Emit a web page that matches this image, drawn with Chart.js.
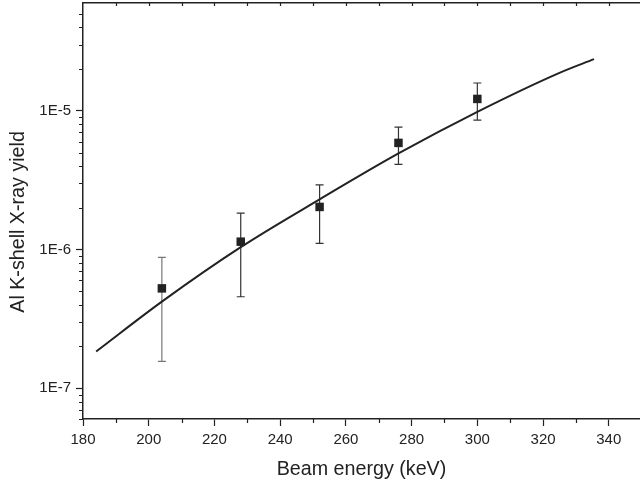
<!DOCTYPE html>
<html>
<head>
<meta charset="utf-8">
<script src="https://cdn.jsdelivr.net/npm/chart.js@4.4.0/dist/chart.umd.min.js"></script>
<style>
    body { margin: 0; background: #fff; overflow: hidden; }
    canvas { display: block; }
</style>
</head>
<body>
<canvas id="yieldChart" width="640" height="488"></canvas>
<script>
// Measured Al K-shell X-ray yield
const energy = [204, 228, 252, 276, 300];
const yieldValues = [5.25e-7, 1.14e-6, 2.03e-6, 5.88e-6, 1.22e-5];
const errHigh = [8.79e-7, 1.83e-6, 2.93e-6, 7.63e-6, 1.59e-5];
const errLow = [1.56e-7, 4.57e-7, 1.11e-6, 4.11e-6, 8.57e-6];

// Calculated curve
const fitEnergy = [184, 204, 228, 252, 276, 300, 325, 335.5];
const fitYield = [1.84e-7, 4.21e-7, 1.04e-6, 2.30e-6, 4.93e-6, 9.84e-6, 1.88e-5, 2.36e-5];

// Axis ticks
const xTickValues = [180, 200, 220, 240, 260, 280, 300, 320, 340];
const yTickValues = [1e-7, 1e-6, 1e-5];
const yTickLabels = ['1E-7', '1E-6', '1E-5'];

const ink = '#222';
const errColors = ['#777', '#333', '#333', '#333', '#333'];
const fontFamily = "'Liberation Sans', Arial, sans-serif";

// keep the plot area where the axes say, no extra label padding
function fixBox(width, height) {
    return function(scale) {
        if (width !== null) scale.width = width;
        if (height !== null) scale.height = height;
        scale.paddingTop = 0;
        scale.paddingBottom = 0;
        scale.paddingLeft = 0;
        scale.paddingRight = 0;
    };
}

// Error bars, drawn under the curve and the squares
const errorBars = {
    id: 'errorBars',
    beforeDatasetsDraw(chart) {
        const ctx = chart.ctx;
        const x = chart.scales.x;
        const y = chart.scales.y;
        ctx.save();
        ctx.lineWidth = 1.2;
        energy.forEach((e, i) => {
            const px = x.getPixelForValue(e);
            const top = y.getPixelForValue(errHigh[i]);
            const bottom = y.getPixelForValue(errLow[i]);
            ctx.strokeStyle = errColors[i];
            ctx.beginPath();
            ctx.moveTo(px, top);
            ctx.lineTo(px, bottom);
            ctx.moveTo(px - 4, top);
            ctx.lineTo(px + 4, top);
            ctx.moveTo(px - 4, bottom);
            ctx.lineTo(px + 4, bottom);
            ctx.stroke();
        });
        ctx.restore();
    }
};

// Minor ticks on the axes
const minorTicks = {
    id: 'minorTicks',
    afterDraw(chart) {
        const ctx = chart.ctx;
        const x = chart.scales.x;
        const y = chart.scales.y;
        const area = chart.chartArea;
        ctx.save();
        ctx.strokeStyle = ink;
        ctx.lineWidth = 1.2;
        ctx.beginPath();
        for (let v = 190; v <= 350; v += 20) {
            const px = Math.round(x.getPixelForValue(v)) + 0.5;
            ctx.moveTo(px, area.bottom);
            ctx.lineTo(px, area.bottom + 4);
        }
        for (let v = 190; v <= 350; v += 10) {
            const px = Math.round(x.getPixelForValue(v)) + 0.5;
            ctx.moveTo(px, area.top);
            ctx.lineTo(px, area.top + 3);
        }
        for (let k = -8; k <= -5; k++) {
            for (let m = 2; m <= 9; m++) {
                const v = m * Math.pow(10, k);
                if (v < y.min || v > y.max) continue;
                const py = Math.round(y.getPixelForValue(v)) + 0.5;
                ctx.moveTo(area.left, py);
                ctx.lineTo(area.left - 4, py);
            }
        }
        ctx.stroke();
        ctx.restore();
    }
};

const ctx = document.getElementById('yieldChart');

new Chart(ctx, {
    type: 'scatter',
    data: {
        datasets: [
            {
                label: 'Measured',
                data: energy.map((e, i) => ({ x: e, y: yieldValues[i] })),
                pointStyle: 'rect',
                pointRadius: 6,
                pointBackgroundColor: ink,
                pointBorderColor: ink,
                pointBorderWidth: 0,
                showLine: false,
                order: 0
            },
            {
                label: 'Calculated',
                data: fitEnergy.map((e, i) => ({ x: e, y: fitYield[i] })),
                showLine: true,
                borderColor: ink,
                borderWidth: 2,
                pointRadius: 0,
                cubicInterpolationMode: 'monotone',
                order: 1
            }
        ]
    },
    options: {
        responsive: false,
        animation: false,
        layout: {
            autoPadding: false,
            padding: { top: 3, right: 0, bottom: 0, left: 0 }
        },
        plugins: {
            legend: { display: false },
            tooltip: { enabled: false }
        },
        scales: {
            x: {
                type: 'linear',
                position: 'bottom',
                min: 180,
                max: 349.5,
                afterFit: fixBox(null, 69),
                afterBuildTicks: function(scale) {
                    scale.ticks = xTickValues.map(v => ({ value: v }));
                },
                border: { display: true, color: ink, width: 1.5 },
                grid: {
                    drawOnChartArea: false,
                    drawTicks: true,
                    tickLength: 7,
                    tickColor: ink,
                    tickWidth: 1.2
                },
                ticks: {
                    padding: 5,
                    maxRotation: 0,
                    color: '#222',
                    font: { family: fontFamily, size: 15 }
                },
                title: {
                    display: true,
                    text: 'Beam energy (keV)',
                    color: '#222',
                    padding: { top: 0, bottom: 7 },
                    font: { family: fontFamily, size: 19.7 }
                }
            },
            xTop: {
                type: 'linear',
                position: 'top',
                min: 180,
                max: 349.5,
                afterFit: fixBox(null, 0),
                border: { display: true, color: ink, width: 1.5 },
                grid: { drawOnChartArea: false, drawTicks: false },
                ticks: { display: false }
            },
            y: {
                type: 'logarithmic',
                position: 'left',
                min: 6e-8,
                max: 6e-5,
                afterFit: fixBox(83, null),
                afterBuildTicks: function(scale) {
                    scale.ticks = yTickValues.map(v => ({ value: v }));
                },
                border: { display: true, color: ink, width: 1.5 },
                grid: {
                    drawOnChartArea: false,
                    drawTicks: true,
                    tickLength: 7,
                    tickColor: ink,
                    tickWidth: 1.2
                },
                ticks: {
                    padding: 5,
                    color: '#222',
                    font: { family: fontFamily, size: 15 },
                    callback: function(value) {
                        const i = yTickValues.findIndex(v => Math.abs(v - value) / v < 1e-6);
                        return i >= 0 ? yTickLabels[i] : '';
                    }
                },
                title: {
                    display: true,
                    text: 'Al K-shell X-ray yield    ',
                    color: '#222',
                    padding: { top: 7, bottom: 0 },
                    font: { family: fontFamily, size: 19.7 }
                }
            }
        }
    },
    plugins: [errorBars, minorTicks]
});
</script>
</body>
</html>
